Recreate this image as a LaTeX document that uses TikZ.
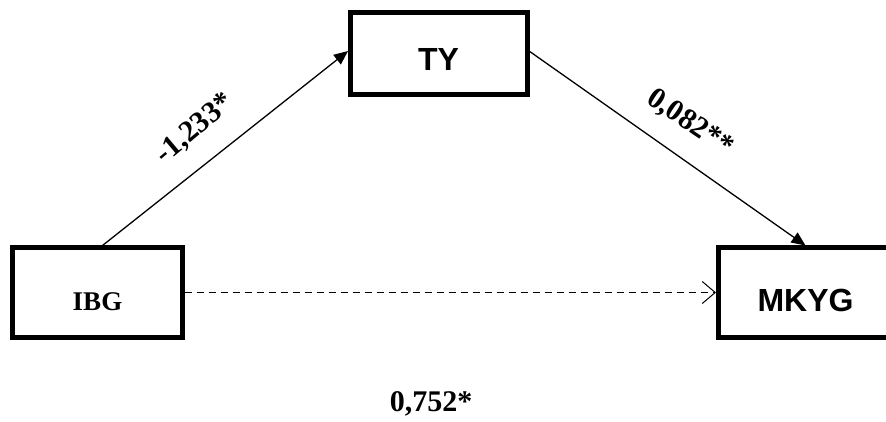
\documentclass[tikz,border=0pt]{standalone}
\usepackage{fontspec}
\setmainfont{Liberation Serif}
\newfontfamily\arialf{Liberation Sans}
\usetikzlibrary{arrows.meta}
\tikzset{
  varbox/.style={draw=black, line width=5pt, fill=white, rectangle, outer sep=2pt, inner sep=0pt},
  serifbold/.style={font=\fontsize{27}{30}\selectfont\bfseries},
  sansbold/.style={font=\arialf\fontsize{32}{34}\selectfont\bfseries},
  coef/.style={font=\fontsize{30}{32}\selectfont\bfseries, inner sep=0pt},
  pathline/.style={line width=1.3pt, -{Triangle[length=14pt,width=12pt]}},
  directline/.style={line width=1pt, dash pattern=on 7pt off 5pt, -{Straight Barb[length=13pt,width=22pt]}}
}
\begin{document}
\begin{tikzpicture}[x=1pt,y=-1pt]
\useasboundingbox[fill=white] (0,0) rectangle (886,422);
\node[varbox, serifbold, minimum width=170pt, minimum height=90pt] (IBG) at (97.5,292.5) {\raisebox{-9pt}[\height][\depth]{IBG}};
\node[varbox, sansbold, minimum width=177pt, minimum height=82pt] (TY) at (438.5,54) {\raisebox{-5pt}[\height][\depth]{TY}};
\node[varbox, sansbold, minimum width=175pt, minimum height=90pt] (MKYG) at (805.5,292.5) {\raisebox{-8pt}[\height][\depth]{MKYG}};
\draw[pathline] ([xshift=5pt]IBG.north) -- ([yshift=3pt]TY.west);
\draw[pathline] ([yshift=3pt]TY.east) -- (MKYG.north);
\draw[directline] (IBG.east) -- (MKYG.west);
\node[coef, rotate=40] (a) at (195,129) {-1,233*};
\node[coef, rotate=-34] (b) at (690,123) {0,082**};
\node[coef] (c) at (431,404) {0,752*};
\end{tikzpicture}
\end{document}
